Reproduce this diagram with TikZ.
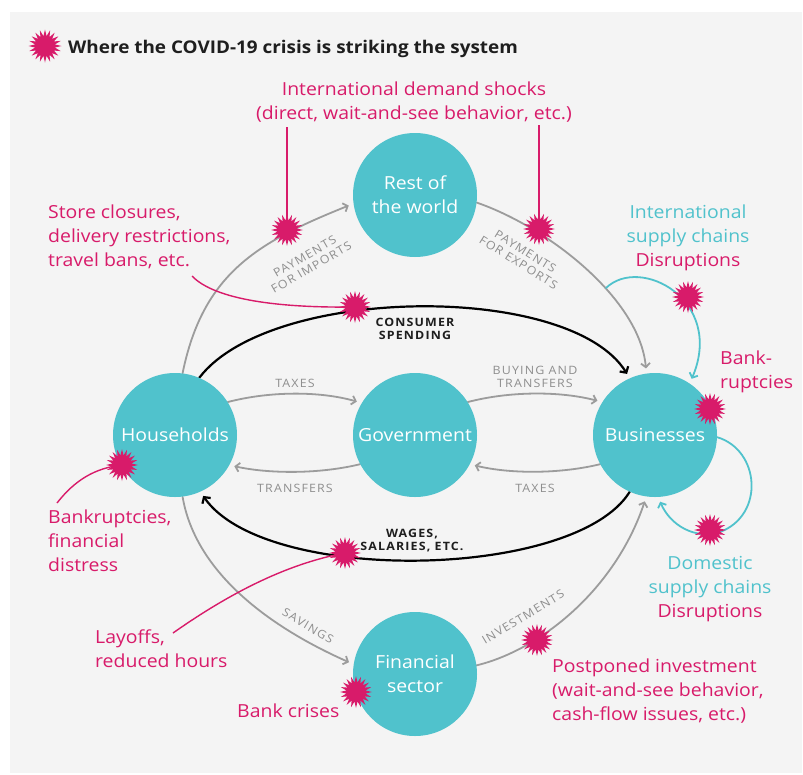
\documentclass[tikz,border=0pt]{standalone}
\usepackage{fontspec}
\setmainfont{Open Sans}[FakeStretch=1.08]
\newfontfamily\lblfont{Open Sans}[LetterSpace=10, FakeStretch=1.08]
\usetikzlibrary{shapes.geometric,arrows.meta}
\pgfdeclarelayer{back}
\pgfdeclarelayer{mid}
\pgfsetlayers{back,mid,main}
\definecolor{cteal}{HTML}{50C2CC}
\definecolor{cpink}{HTML}{D81B6A}
\definecolor{cgray}{HTML}{9C9C9C}
\definecolor{clab}{HTML}{8E8E8E}
\definecolor{cbg}{HTML}{F4F4F4}
\definecolor{cdark}{HTML}{1E1E1E}
\tikzset{
  circ/.style={circle, fill=cteal, minimum size=124pt, inner sep=0pt, text=white,
    font=\fontsize{18}{24}\selectfont, align=center},
  burst/.style={star, star points=20, star point ratio=1.65, fill=cpink,
    minimum size=32pt, inner sep=0pt},
  flow/.style={draw=cgray, line width=1.8pt, line cap=round,
    -{Straight Barb[length=4pt,width=9pt]}, shorten >=5pt},
  money/.style={draw=black, line width=2.2pt, line cap=round,
    -{Straight Barb[length=4.5pt,width=10pt]}, shorten >=5pt},
  hitline/.style={draw=cpink, line width=1.4pt},
  supply/.style={draw=cteal, line width=1.8pt, line cap=round,
    -{Straight Barb[length=4pt,width=9pt]}, shorten >=5pt},
  lbl/.style={text=clab, font=\lblfont\fontsize{11.5}{13}\selectfont, align=center, inner sep=0pt},
  dlbl/.style={text=cdark, font=\lblfont\bfseries\fontsize{11.5}{13}\selectfont, align=center, inner sep=0pt},
  ptxt/.style={text=cpink, font=\fontsize{18}{24}\selectfont, inner sep=0pt},
}
\begin{document}
\begin{tikzpicture}[x=1pt,y=-1pt]
\useasboundingbox (0,0) rectangle (803,774);
\begin{pgfonlayer}{back}
\fill[white] (0,0) rectangle (803,774);
\fill[cbg] (10,12) rectangle (802,773);
\end{pgfonlayer}

% title
\node[burst, minimum size=33pt] (s0) at (45,46) {};
\node[anchor=base west, inner sep=0pt, text=cdark, font=\bfseries\fontsize{17.5}{22}\selectfont] (title) at (68,53) {Where the COVID-19 crisis is striking the system};

% sectors
\node[circ] (rw) at (415,195) {Rest of\\the world};
\node[circ] (hh) at (175,435) {Households};
\node[circ] (gov) at (415,435) {Government};
\node[circ] (bc) at (655,435) {Businesses};
\node[circ] (fs) at (415,674) {Financial\\sector};

% strike points
\node[burst] (s1) at (287,230) {};
\node[burst] (s2) at (539,229) {};
\node[burst] (s3) at (355,307) {};
\node[burst] (s4) at (688,297) {};
\node[burst] (s5) at (710,409) {};
\node[burst] (s6) at (122,465) {};
\node[burst] (s7) at (345,553) {};
\node[burst] (s8) at (710,530) {};
\node[burst] (s9) at (537,640) {};
\node[burst] (s10) at (356,692) {};

% pink texts (base = baseline of last line)
\node[ptxt, align=center, anchor=base] (tdem) at (414,119) {International demand shocks\\(direct, wait-and-see behavior, etc.)};
\node[ptxt, align=left, anchor=base west] (tstore) at (48,266) {Store closures,\\delivery restrictions,\\travel bans, etc.};
\node[ptxt, align=left, anchor=base west] (tbank) at (48,571) {Bankruptcies,\\financial\\distress};
\node[ptxt, align=left, anchor=base west] (tlay) at (95,667) {Layoffs,\\reduced hours};
\node[ptxt, anchor=base west] (tcris) at (237,717) {Bank crises};
\node[ptxt, align=left, anchor=base west] (tpost) at (552,720) {Postponed investment\\(wait-and-see behavior,\\cash-flow issues, etc.)};
\node[ptxt, align=left, anchor=base west] (tbkr) at (720,388) {Bank-\\ruptcies};
\node[ptxt, text=cteal, align=center, anchor=base] (tint) at (688,266) {International\\supply chains\\\textcolor{cpink}{Disruptions}};
\node[ptxt, text=cteal, align=center, anchor=base] (tdom) at (710,617) {Domestic\\supply chains\\\textcolor{cpink}{Disruptions}};

% flow labels
\node[lbl, rotate=30] (limp) at (308,262) {PAYMENTS\\FOR IMPORTS};
\node[lbl, rotate=-32] (lexp) at (522,257) {PAYMENTS\\FOR EXPORTS};
\node[dlbl, anchor=base] (lcons) at (415,339) {CONSUMER\\SPENDING};
\node[lbl, anchor=base] (ltax1) at (295,387) {TAXES};
\node[lbl, anchor=base] (ltr) at (295,492) {TRANSFERS};
\node[lbl, anchor=base] (lbuy) at (535,387) {BUYING AND\\TRANSFERS};
\node[lbl, anchor=base] (ltax2) at (535,492) {TAXES};
\node[dlbl, anchor=base] (lwag) at (412,550) {WAGES,\\SALARIES, ETC.};
\node[lbl, rotate=-31] (lsav) at (308,626) {SAVINGS};
\node[lbl, rotate=31] (linv) at (523,617) {INVESTMENTS};

% free ends of strike lines
\coordinate (p1) at (287,127);
\coordinate (p2) at (539,125);
\coordinate (p3) at (192,276);
\coordinate (p6) at (57,503);
\coordinate (p7) at (173,633);
\coordinate (q4) at (606,288);

\begin{pgfonlayer}{mid}
% money flows
\draw[flow] (hh.83) .. controls (203,273) and (258,242) .. (rw.188);
\draw[flow] (rw.353) .. controls (550,228) and (640,300) .. (bc.98);
\draw[money] (hh.67) .. controls (270,285) and (570,282) .. (bc.114);
\draw[flow] (hh.32) .. controls (270,391) and (320,391) .. (gov.149);
\draw[flow] (gov.208) .. controls (320,474) and (270,474) .. (hh.331);
\draw[flow] (gov.32) .. controls (510,391) and (560,391) .. (bc.148);
\draw[flow] (bc.208) .. controls (560,474) and (510,474) .. (gov.332);
\draw[money] (bc.246) .. controls (575,580) and (265,585) .. (hh.294);
\draw[flow] (hh.277) .. controls (195,570) and (265,625) .. (fs.171);
\draw[flow] (fs.8) .. controls (540,650) and (615,590) .. (bc.262);
% supply chain loops
\draw[supply] (q4) .. controls (640,255) and (725,300) .. (bc.56);
\draw[supply] (bc.358) .. controls (760,450) and (765,515) .. (720,532) .. controls (695,540) and (670,525) .. (bc.273);
% strike lines
\draw[hitline] (p1) -- (s1.center);
\draw[hitline] (p2) -- (s2.center);
\draw[hitline] (p3) .. controls (215,300) and (280,308) .. (s3.center);
\draw[hitline] (p6) .. controls (75,480) and (95,468) .. (s6.center);
\draw[hitline] (p7) .. controls (220,600) and (280,565) .. (s7.center);
\end{pgfonlayer}
\end{tikzpicture}
\end{document}
